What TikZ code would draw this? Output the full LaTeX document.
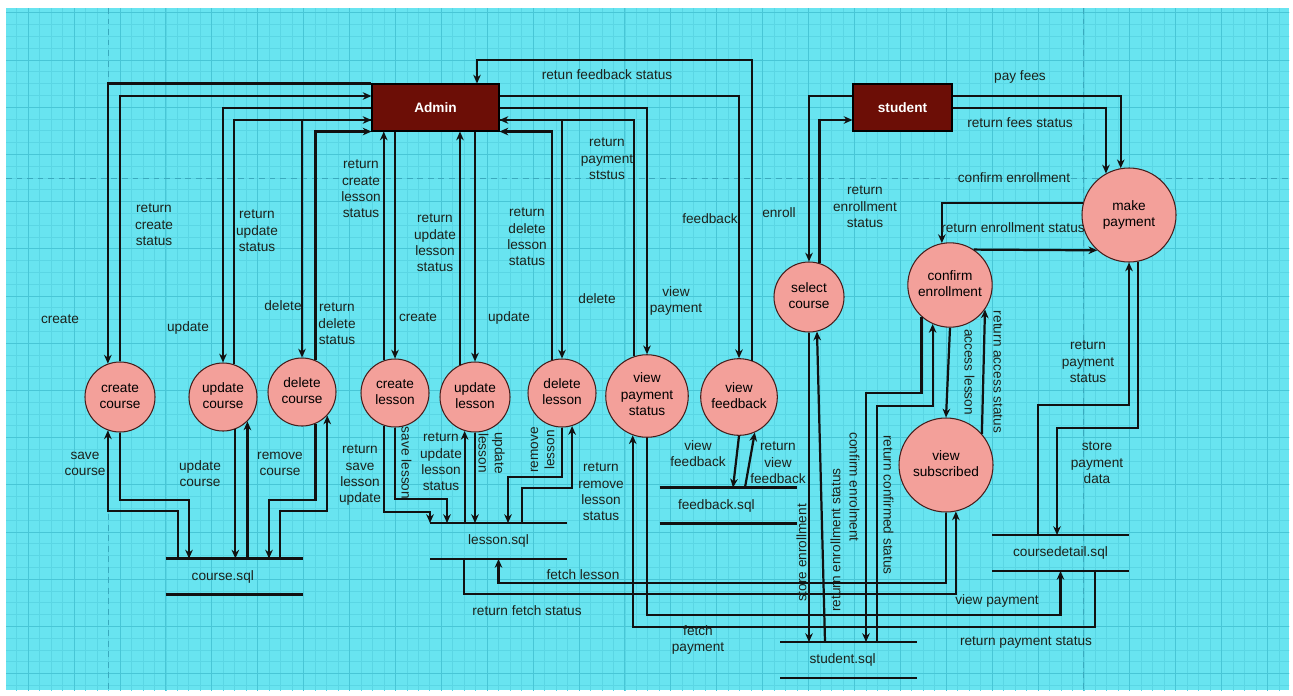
\documentclass[tikz,border=0pt]{standalone}
\usepackage{fontspec}
\setmainfont{Liberation Sans}
\usetikzlibrary{arrows.meta}

\definecolor{bgcyan}{RGB}{104,228,240}
\definecolor{gridminor}{RGB}{90,214,228}
\definecolor{gridmajor}{RGB}{72,198,214}
\definecolor{pagedash}{RGB}{58,170,190}
\definecolor{procfill}{RGB}{243,160,154}
\definecolor{procline}{RGB}{70,30,28}
\definecolor{entfill}{RGB}{108,14,6}
\definecolor{inkline}{RGB}{17,17,17}
\definecolor{labelink}{RGB}{28,34,28}

\begin{document}
\begin{tikzpicture}[x=0.03cm, y=-0.03cm,
	every node/.style={font=\fontsize{11.65}{14}\selectfont},
	flow/.style={draw=inkline, line width=1.9pt, -{Stealth[length=7.5pt,width=6.5pt]}},
	storeline/.style={draw=inkline, line width=1.9pt},
	process/.style={circle, draw=procline, line width=0.9pt, fill=procfill, minimum size=#1, inner sep=0pt, text=black},
	process/.default=2.04cm,
	entity/.style={rectangle, draw=black, line width=0.9pt, fill=entfill, text=white, font=\fontsize{11.65}{14}\selectfont\bfseries, minimum width=#1, minimum height=1.41cm},
	store/.style={inner sep=0pt, outer sep=0pt, minimum width=4.11cm, minimum height=1.08cm, text=labelink},
	lbl/.style={text=labelink, inner sep=0pt},
	minorgrid/.style={draw=gridminor, line width=0.3pt},
	majorgrid/.style={draw=gridmajor, line width=0.5pt},
	pagebreak/.style={draw=pagedash, line width=0.8pt, dash pattern=on 5pt off 4pt}]
		\useasboundingbox (0,0) rectangle (1293,695);
		
		% canvas and grid
		\fill[bgcyan] (6,8) rectangle (1289,690);
		\begin{scope}
			\clip (6,8) rectangle (1289,690);
			\foreach \i in {0,...,112} \draw[minorgrid] ({5.05+11.475*\i},0) -- ({5.05+11.475*\i},695);
			\foreach \i in {0,...,58} \draw[minorgrid] (0,{0.8+11.8*\i}) -- (1293,{0.8+11.8*\i});
			\foreach \i in {0,...,27} \draw[majorgrid] ({28+45.9*\i},0) -- ({28+45.9*\i},695);
			\foreach \i in {0,...,14} \draw[majorgrid] (0,{12.6+47.2*\i}) -- (1293,{12.6+47.2*\i});
			\draw[pagebreak] (108,8) -- (108,690);
			\draw[pagebreak] (1083,8) -- (1083,690);
			\draw[pagebreak] (6,178) -- (1289,178);
		\end{scope}
		
		% external entities
		\node[entity=3.81cm] (admin) at (435.5,107.5){Admin};
		\node[entity=2.97cm] (student) at (902.5,107.5){student};
		
		% processes
		\node[process=2.1cm] (ccourse) at (120,397){\begin{tabular}{c}create\\course\end{tabular}};
		\node[process] (ucourse) at (223,397){\begin{tabular}{c}update\\course\end{tabular}};
		\node[process] (dcourse) at (302,392){\begin{tabular}{c}delete\\course\end{tabular}};
		\node[process] (clesson) at (395,393){\begin{tabular}{c}create\\lesson\end{tabular}};
		\node[process=2.1cm] (ulesson) at (475,397){\begin{tabular}{c}update\\lesson\end{tabular}};
		\node[process] (dlesson) at (562,393){\begin{tabular}{c}delete\\lesson\end{tabular}};
		\node[process=2.1cm] (vpay) at (647,396){\begin{tabular}{c}view\\payment\\status\end{tabular}};
		\node[process=2.1cm] (vfb) at (739,397){\begin{tabular}{c}view\\feedback\end{tabular}};
		\node[process=2.1cm] (selc) at (809,297){\begin{tabular}{c}select\\course\end{tabular}};
		\node[process=2.52cm] (cenrol) at (950,285){\begin{tabular}{c}confirm\\enrollment\end{tabular}};
		\node[process=2.82cm] (vsub) at (946,465){\begin{tabular}{c}view\\subscribed\end{tabular}};
		\node[process=2.82cm] (mpay) at (1129,215){\begin{tabular}{c}make\\payment\end{tabular}};
		
		% data stores
		\node[store] (csql) at (234.5,576.5){\hspace*{-0.7cm}course.sql};
		\node[store] (lsql) at (498.5,541){lesson.sql};
		\node[store] (fsql) at (728,505.5){\hspace*{-0.7cm}feedback.sql};
		\node[store] (ssql) at (848.5,660){\hspace*{-0.35cm}student.sql};
		\node[store] (cdsql) at (1060.5,553){\raisebox{-0.18cm}{coursedetail.sql}};
		\foreach \s in {csql,lsql,fsql,ssql,cdsql}
			\draw[storeline] (\s.north west) -- (\s.north east) (\s.south west) -- (\s.south east);
		
		% admin and course processes
		\draw[flow] (admin.north west) -| (ccourse.110);
		\draw[flow] (ccourse.north) |- (admin.west |- 0,96);
		\draw[flow] (admin.west |- 0,108) -| (ucourse.north);
		\draw[flow] (ucourse.71) |- (admin.west |- 0,120);
		\draw[flow] (admin.west |- 0,120) -| (dcourse.north);
		\draw[flow] (dcourse.67) |- (admin.south west);
		
		% admin and lesson processes
		\draw[flow] (clesson.109) -- (clesson.109 |- admin.south);
		\draw[flow] (clesson.north |- admin.south) -- (clesson.north);
		\draw[flow] (ulesson.115) -- (ulesson.115 |- admin.south);
		\draw[flow] (ulesson.north |- admin.south) -- (ulesson.north);
		\draw[flow] (dlesson.107) |- (admin.south east);
		\draw[flow] (admin.east |- 0,120) -| (dlesson.north);
		
		% admin, payment and feedback
		\draw[flow] (vpay.108) |- (admin.east |- 0,120);
		\draw[flow] (admin.east |- 0,108) -| (vpay.north);
		\draw[flow] (admin.east |- 0,96) -| (vfb.north);
		\coordinate (fbtop) at (477,60);
		\draw[flow] (vfb.70) |- (fbtop) -- (fbtop |- admin.north);
		
		% student side
		\draw[flow] (student.west |- 0,96) -| (selc.north);
		\draw[flow] (selc.73) |- (student.west |- 0,120);
		\draw[flow] (student.east |- 0,96) -| (mpay.100);
		\draw[flow] (student.east |- 0,108) -| (mpay.119);
		\draw[flow] (mpay.165) -| (cenrol.101);
		\draw[flow] (cenrol.56) -- (mpay.228);
		\draw[flow] (cenrol.south) -- (vsub.north);
		\draw[flow] (vsub.41) -- (cenrol.-35);
		\draw[flow] (cenrol.228) -- (cenrol.228 |- 0,393) -| (ssql.north -| 866,0);
		\draw[flow] (ssql.north -| 877,0) |- (cenrol.246 |- 0,406) -- (cenrol.246);
		\draw[flow] (selc.south) -- (selc.south |- ssql.north);
		\draw[flow] (ssql.north -| 825,0) -- (selc.-77);
		
		% feedback store
		\draw[flow] (vfb.south) -- (fsql.north -| 733,0);
		\draw[flow] (fsql.north -| 745,0) -- (vfb.-66);
		
		% lesson store
		\draw[flow] (clesson.south) -- (clesson.south |- 0,499) -| (lsql.north -| 447,0);
		\draw[flow] (clesson.251) -- (clesson.251 |- 0,512) -| (lsql.north -| 430,0);
		\draw[flow] (lsql.north -| ulesson.253) -- (ulesson.253);
		\draw[flow] (ulesson.south) -- (ulesson.south |- lsql.north);
		\draw[flow] (dlesson.south) -- (dlesson.south |- 0,477) -| (lsql.north -| 508,0);
		\draw[flow] (lsql.north -| 522,0) |- (dlesson.-73 |- 0,488) -- (dlesson.-73);
		\draw[flow] (vsub.south) |- (lsql.south |- 0,583) -- (lsql.south);
		\draw[flow] (lsql.south -| 464,0) |- (vsub.-78 |- 0,594) -- (vsub.-78);
		
		% payment store
		\draw[flow] (vpay.south) |- (cdsql.south |- 0,615) -- (cdsql.south);
		\draw[flow] (cdsql.south -| 1095,0) |- (vpay.250 |- 0,627) -- (vpay.250);
		\draw[flow] (cdsql.north -| 1038,0) |- (mpay.south |- 0,405) -- (mpay.south);
		\draw[flow] (mpay.-79) -- (mpay.-79 |- 0,428) -| (cdsql.north -| 1057,0);
		
		% course store
		\draw[flow] (csql.north -| 178,0) |- (ccourse.250 |- 0,511) -- (ccourse.250);
		\draw[flow] (ccourse.south) -- (ccourse.south |- 0,500) -| (csql.north -| 189,0);
		\draw[flow] (ucourse.-69) -- (ucourse.-69 |- csql.north);
		\draw[flow] (ucourse.-45 |- csql.north) -- (ucourse.-45);
		\draw[flow] (dcourse.-67) -- (dcourse.-67 |- 0,500) -| (csql.north -| 269,0);
		\draw[flow] (csql.north -| 280,0) |- (dcourse.-43 |- 0,511) -- (dcourse.-43);
		
		% labels, course side
		\node[lbl] (lcrc) at (60,320){\begin{tabular}{c}create\end{tabular}};
		\node[lbl] (lrcc) at (154,226){\begin{tabular}{c}return\\create\\status\end{tabular}};
		\node[lbl] (lupc) at (188,328){\begin{tabular}{c}update\end{tabular}};
		\node[lbl] (lruc) at (257,232){\begin{tabular}{c}return\\update\\status\end{tabular}};
		\node[lbl] (ldlc) at (283,307){\begin{tabular}{c}delete\end{tabular}};
		\node[lbl] (lrdc) at (337,325){\begin{tabular}{c}return\\delete\\status\end{tabular}};
		\node[lbl] (lsvc) at (85,464){\begin{tabular}{c}save\\course\end{tabular}};
		\node[lbl] (lupcs) at (200,475){\begin{tabular}{c}update\\course\end{tabular}};
		\node[lbl] (lrmc) at (280,464){\begin{tabular}{c}remove\\course\end{tabular}};
		
		% labels, lesson side
		\node[lbl] (lrcl) at (361,190){\begin{tabular}{c}return\\create\\lesson\\status\end{tabular}};
		\node[lbl] (lcrl) at (418,318){\begin{tabular}{c}create\end{tabular}};
		\node[lbl] (lrul) at (435,244){\begin{tabular}{c}return\\update\\lesson\\status\end{tabular}};
		\node[lbl] (lupl) at (509,318){\begin{tabular}{c}update\end{tabular}};
		\node[lbl] (lrdl) at (527,238){\begin{tabular}{c}return\\delete\\lesson\\status\end{tabular}};
		\node[lbl] (ldll) at (597,300){\begin{tabular}{c}delete\end{tabular}};
		\node[lbl] (lrsl) at (360,475){\begin{tabular}{c}return\\save\\lesson\\update\end{tabular}};
		\node[lbl, rotate=-90] (lsvl) at (405,463){\begin{tabular}{c}save lesson\end{tabular}};
		\node[lbl] (lrus) at (441,463){\begin{tabular}{c}return\\update\\lesson\\status\end{tabular}};
		\node[lbl, rotate=-90] (lupls) at (490,453){\begin{tabular}{c}update\\lesson\end{tabular}};
		\node[lbl, rotate=90] (lrml) at (543,450){\begin{tabular}{c}remove\\lesson\end{tabular}};
		\node[lbl] (lrrl) at (601,493){\begin{tabular}{c}return\\remove\\lesson\\status\end{tabular}};
		\node[lbl] (lfl) at (583,576){\begin{tabular}{c}fetch lesson\end{tabular}};
		\node[lbl] (lrfs) at (527,612){\begin{tabular}{c}return fetch status\end{tabular}};
		
		% labels, payment and feedback
		\node[lbl] (lrps) at (607,160){\begin{tabular}{c}return\\payment\\ststus\end{tabular}};
		\node[lbl] (lvp) at (676,301){\begin{tabular}{c}view\\payment\end{tabular}};
		\node[lbl] (lfb) at (710,220){\begin{tabular}{c}feedback\end{tabular}};
		\node[lbl] (lrfb) at (607,76){\begin{tabular}{c}retun feedback status\end{tabular}};
		\node[lbl] (lvfb) at (698,455){\begin{tabular}{c}view\\feedback\end{tabular}};
		\node[lbl] (lrvf) at (778,464){\begin{tabular}{c}return\\view\\feedback\end{tabular}};
		\node[lbl] (lfp) at (698,640){\begin{tabular}{c}fetch\\payment\end{tabular}};
		\node[lbl] (lvpay) at (997,601){\begin{tabular}{c}view payment\end{tabular}};
		\node[lbl] (lrpb) at (1026,642){\begin{tabular}{c}return payment status\end{tabular}};
		\node[lbl] (lrpm) at (1088,363){\begin{tabular}{c}return\\payment\\status\end{tabular}};
		\node[lbl] (lspd) at (1097,464){\begin{tabular}{c}store\\payment\\data\end{tabular}};
		
		% labels, student side
		\node[lbl] (lenr) at (779,214){\begin{tabular}{c}enroll\end{tabular}};
		\node[lbl] (lres) at (865,208){\begin{tabular}{c}return\\enrollment\\status\end{tabular}};
		\node[lbl] (lpay) at (1020,77){\begin{tabular}{c}pay fees\end{tabular}};
		\node[lbl] (lrfe) at (1020,124){\begin{tabular}{c}return fees status\end{tabular}};
		\node[lbl] (lcen) at (1014,179){\begin{tabular}{c}confirm enrollment\end{tabular}};
		\node[lbl] (lrens) at (1013,229){\begin{tabular}{c}return enrollment status\end{tabular}};
		\node[lbl, rotate=-90] (lacc) at (968,372){\begin{tabular}{c}access lesson\end{tabular}};
		\node[lbl, rotate=-90] (lras) at (997,372){\begin{tabular}{c}return access status\end{tabular}};
		\node[lbl, rotate=90] (lste) at (803,553){\begin{tabular}{c}store enrollment\end{tabular}};
		\node[lbl, rotate=90] (lres2) at (837,540){\begin{tabular}{c}return enrollment status\end{tabular}};
		\node[lbl, rotate=-90] (lcfe) at (853,487){\begin{tabular}{c}confirm enrolment\end{tabular}};
		\node[lbl, rotate=-90] (lrcs) at (887,505){\begin{tabular}{c}return confirmed status\end{tabular}};
	\end{tikzpicture}
\end{document}
